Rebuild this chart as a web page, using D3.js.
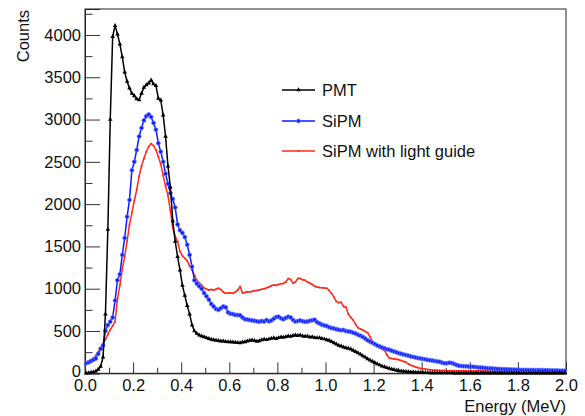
<!DOCTYPE html>
<html>
<head>
<meta charset="utf-8">
<script src="https://cdn.jsdelivr.net/npm/d3@7"></script>
<style>
  body { margin: 0; background: #fff; }
  text { font-family: "Liberation Sans", Arial, Helvetica, sans-serif; }
</style>
</head>
<body>
<div id="svgContainer"></div>
<script>
// Histogram bins: 200 bins of 0.01 MeV from 0 to 2 MeV
const binWidth = 0.01;

const pmt = [
  2, 5, 10, 15, 25, 45, 80, 190, 700, 1700,
  3000, 3980, 4110, 4010, 3890, 3740, 3560, 3450, 3370, 3310,
  3280, 3243, 3231, 3310, 3380, 3410, 3430, 3465, 3420, 3400,
  3250, 3230, 3053, 2800, 2450, 2200, 1800, 1560, 1380, 1220,
  1040, 920, 800, 700, 570, 500, 470, 450, 440, 430,
  420, 410, 400, 395, 390, 385, 380, 380, 375, 372,
  370, 368, 365, 362, 360, 368, 372, 380, 388, 392,
  385, 378, 382, 395, 402, 396, 405, 412, 418, 410,
  420, 428, 425, 432, 440, 436, 445, 450, 446, 452,
  440, 435, 438, 428, 430, 422, 418, 420, 410, 405,
  395, 390, 375, 360, 345, 330, 322, 310, 300, 295,
  285, 270, 255, 240, 225, 205, 190, 170, 155, 140,
  125, 110, 98, 85, 75, 65, 58, 48, 42, 35,
  30, 26, 22, 20, 18, 15, 13, 11, 10, 9,
  8, 7, 6, 5, 5, 4, 4, 4, 3, 3,
  3, 3, 3, 2, 2, 2, 2, 2, 2, 2,
  2, 2, 1, 2, 1, 1, 2, 1, 1, 1,
  1, 1, 1, 1, 1, 1, 1, 1, 1, 1,
  1, 1, 0, 1, 1, 0, 1, 0, 1, 0,
  0, 1, 0, 0, 1, 0, 0, 1, 0, 0
];

const sipm = [
  120, 130, 145, 160, 175, 230, 290, 330, 500, 570,
  610, 660, 860, 1100, 1170, 1400, 1600, 1850, 2050, 2400,
  2500, 2640, 2800, 2900, 2990, 3040, 3060, 3030, 2960, 2880,
  2720, 2620, 2500, 2360, 2240, 2130, 2060, 1960, 1760, 1690,
  1660, 1610, 1520, 1400, 1260, 1100, 1060, 1030, 1000, 950,
  910, 870, 820, 790, 760, 750, 770, 790, 780, 720,
  705, 700, 690, 690, 685, 660, 640, 635, 630, 625,
  620, 615, 610, 618, 612, 630, 615, 625, 645, 665,
  670, 650, 640, 655, 668, 660, 630, 612, 618, 625,
  615, 610, 612, 620, 628, 632, 605, 590, 575, 565,
  560, 545, 535, 530, 522, 515, 510, 512, 500, 495,
  490, 480, 470, 455, 445, 430, 410, 390, 375, 360,
  345, 330, 318, 305, 295, 285, 278, 268, 258, 248,
  238, 230, 222, 215, 208, 200, 194, 186, 180, 175,
  170, 165, 158, 155, 150, 145, 140, 136, 125, 118,
  120, 125, 122, 110, 98, 90, 86, 84, 82, 80,
  78, 76, 74, 70, 68, 66, 63, 60, 58, 56,
  54, 52, 50, 49, 48, 47, 45, 44, 43, 42,
  41, 40, 40, 39, 39, 38, 38, 37, 38, 37,
  36, 35, 35, 34, 34, 33, 32, 31, 31, 30
];

const sipmGuide = [
  110, 130, 155, 180, 210, 250, 300, 350, 400, 460,
  515, 560, 610, 880, 1040, 1230, 1380, 1560, 1760, 1900,
  2040, 2170, 2330, 2450, 2540, 2620, 2680, 2715, 2690, 2640,
  2560, 2470, 2340, 2210, 2100, 1920, 1720, 1620, 1560, 1440,
  1390, 1360, 1330, 1270, 1220, 1160, 1100, 1070, 1040, 1010,
  995, 985, 990, 985, 995, 1005, 990, 960, 945, 950,
  948, 945, 960, 985, 1025, 950, 955, 965, 960, 970,
  975, 980, 985, 995, 1000, 1010, 1020, 1035, 1045, 1040,
  1050, 1060, 1062, 1080, 1120, 1110, 1065, 1080, 1122, 1120,
  1105, 1100, 1080, 1065, 1050, 1030, 1020, 1015, 1012, 1008,
  1005, 980, 945, 900, 850, 835, 840, 790, 780, 700,
  660, 630, 580, 540, 525, 510, 495, 480, 430, 380,
  350, 320, 300, 285, 270, 220, 180, 175, 170, 165,
  160, 150, 140, 130, 110, 95, 85, 75, 65, 58,
  55, 50, 46, 42, 39, 37, 35, 34, 33, 32,
  31, 31, 30, 30, 30, 29, 29, 29, 28, 28,
  28, 28, 27, 27, 27, 27, 26, 26, 26, 26,
  26, 25, 25, 25, 25, 25, 24, 24, 24, 24,
  24, 24, 23, 23, 23, 23, 23, 23, 22, 22,
  22, 22, 22, 22, 22, 21, 21, 21, 21, 21
];

const xTicks = [0, 0.2, 0.4, 0.6, 0.8, 1.0, 1.2, 1.4, 1.6, 1.8, 2.0];
const yTicks = [0, 500, 1000, 1500, 2000, 2500, 3000, 3500, 4000];

const seriesNames = ["PMT", "SiPM", "SiPM with light guide"];
const seriesColors = ["#000000", "#0a1cff", "#ff2a1a"];

const width = 585;
const height = 416;
const frame = { left: 85, right: 566, top: 9, bottom: 373.3 };
const fontsize = 16.5;

const svg = d3.select("#svgContainer").append("svg")
  .attr("width", width)
  .attr("height", height);

const x = d3.scaleLinear().domain([0, 2]).range([frame.left, frame.right]);
const y = d3.scaleLinear().domain([0, 4307]).range([frame.bottom, frame.top]);

// Frame box
svg.append("rect")
  .attr("x", frame.left)
  .attr("y", frame.top)
  .attr("width", frame.right - frame.left)
  .attr("height", frame.bottom - frame.top)
  .attr("fill", "none")
  .attr("stroke", "#222")
  .attr("stroke-width", 1);

// Y axis, ticks pointing inside the frame
const yAxis = svg.append("g")
  .attr("transform", `translate(${frame.left},0)`)
  .call(d3.axisLeft(y).tickValues(yTicks).tickSize(-15).tickPadding(4)
    .tickFormat(d3.format("d")));
// nudge the "0" label up a little so it clears the "0.0" below it
yAxis.selectAll(".tick text").filter(d => d === 0).attr("dy", "0.2em");
svg.append("g")
  .attr("transform", `translate(${frame.left},0)`)
  .call(d3.axisLeft(y).tickValues(d3.range(250, 4300, 500)).tickSize(-7.5).tickFormat(""))
  .select(".domain").remove();

// X axis
svg.append("g")
  .attr("transform", `translate(0,${frame.bottom})`)
  .call(d3.axisBottom(x).tickValues(xTicks).tickSize(-11).tickPadding(6)
    .tickFormat(d3.format(".1f")));
svg.append("g")
  .attr("transform", `translate(0,${frame.bottom})`)
  .call(d3.axisBottom(x).tickValues(d3.range(0.1, 2, 0.2)).tickSize(-5.5).tickFormat(""))
  .select(".domain").remove();

svg.selectAll(".tick text")
  .attr("font-family", "Liberation Sans, Arial, sans-serif")
  .attr("font-size", `${fontsize}px`)
  .attr("fill", "#111");
svg.selectAll(".tick line").attr("stroke", "#333");
svg.selectAll(".domain").attr("stroke", "#222");

// Axis titles
svg.append("text")
  .attr("transform", "translate(29,10) rotate(-90)")
  .attr("text-anchor", "end")
  .attr("font-size", `${fontsize}px`)
  .attr("fill", "#111")
  .text("Counts");

svg.append("text")
  .attr("x", frame.right)
  .attr("y", 412)
  .attr("text-anchor", "end")
  .attr("font-size", `${fontsize}px`)
  .attr("fill", "#111")
  .text("Energy (MeV)");

// Curves
const plot = svg.append("g");
const line = d3.line()
  .x((d, i) => x((i + 0.5) * binWidth))
  .y(d => y(d));

const allSeries = [pmt, sipm, sipmGuide];

function drawMarker(g, k, cx, cy) {
  if (k === 0) {
    g.append("path")
      .attr("d", d3.symbol().type(d3.symbolTriangle).size(9)())
      .attr("transform", `translate(${cx},${cy})`)
      .attr("fill", seriesColors[0]);
  } else if (k === 1) {
    g.append("circle")
      .attr("cx", cx).attr("cy", cy).attr("r", 2)
      .attr("fill", seriesColors[1])
      .attr("stroke", "#6f7dff")
      .attr("stroke-width", 0.8);
  } else {
    g.append("circle")
      .attr("cx", cx).attr("cy", cy).attr("r", 1)
      .attr("fill", seriesColors[2]);
  }
}

// Draw in order so black is on top
[2, 1, 0].forEach(k => {
  const data = allSeries[k];
  plot.append("path")
    .datum(data)
    .attr("d", line)
    .attr("fill", "none")
    .attr("stroke", seriesColors[k])
    .attr("stroke-width", 1.5)
    .attr("stroke-linejoin", "round");
  const mg = plot.append("g");
  for (let i = 0; i < data.length; i++) {
    drawMarker(mg, k, x((i + 0.5) * binWidth), y(data[i]));
  }
});

// Legend
const legendY = [90, 121, 151];
const legend = svg.append("g");
for (let k = 0; k < seriesNames.length; k++) {
  legend.append("line")
    .attr("x1", 282).attr("x2", 315)
    .attr("y1", legendY[k]).attr("y2", legendY[k])
    .attr("stroke", seriesColors[k])
    .attr("stroke-width", 1.5);
  drawMarker(legend, k, 298.5, legendY[k]);
  legend.append("text")
    .attr("x", 322)
    .attr("y", legendY[k] + 6)
    .attr("font-size", `${fontsize}px`)
    .attr("fill", "#111")
    .text(seriesNames[k]);
}
</script>
</body>
</html>
